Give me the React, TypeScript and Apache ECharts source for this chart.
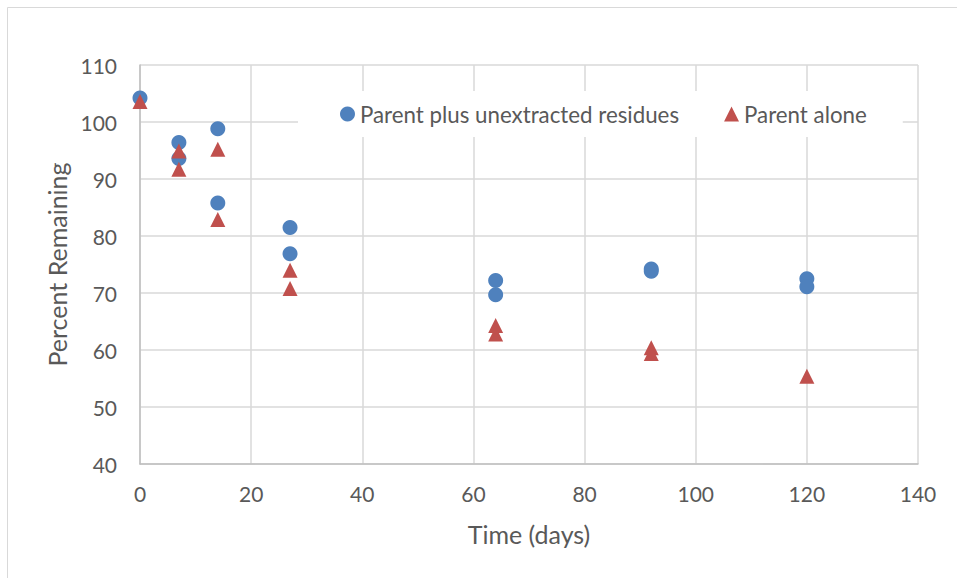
import React, { useEffect, useRef } from "react";
import * as echarts from "echarts";

const seriesNames = ["Parent plus unextracted residues", "Parent alone"];
const parentPlusResidues: [number, number][] = [
  [0, 104.2], [7, 96.4], [7, 93.6], [14, 98.8], [14, 85.8],
  [27, 81.5], [27, 76.9], [64, 72.2], [64, 69.7],
  [92, 74.2], [92, 73.8], [120, 72.5], [120, 71.1],
];
const parentAlone: [number, number][] = [
  [0, 103.6], [7, 94.9], [7, 91.7], [14, 95.2], [14, 82.9],
  [27, 74.0], [27, 70.8], [64, 64.3], [64, 62.8],
  [92, 60.4], [92, 59.4], [120, 55.4],
];
const xAxisName = "Time (days)";
const yAxisName = "Percent Remaining";

const FONT = "Lato, 'Noto Sans', sans-serif";
const TEXT = "#595959";

export default function App() {
  const ref = useRef<HTMLDivElement>(null);
  useEffect(() => {
    if (!ref.current) return;
    const chart = echarts.init(ref.current, undefined, { renderer: "svg" });
    chart.setOption({
      animation: false,
      backgroundColor: "#ffffff",
      textStyle: { fontFamily: FONT },
      graphic: [
        {
          type: "rect",
          shape: { x: 7.5, y: 7.5, width: 980, height: 600 },
          style: { fill: "none", stroke: "#d9d9d9", lineWidth: 1 },
          silent: true,
        },
      ],
      grid: { left: 140, right: 39, top: 65, bottom: 114 },
      legend: {
        left: 298,
        top: 91,
        padding: [12, 36, 12, 42],
        backgroundColor: "#ffffff",
        itemWidth: 15,
        itemHeight: 15,
        itemGap: 45,
        textStyle: { color: TEXT, fontSize: 22.3, fontFamily: FONT },
        data: seriesNames,
      },
      xAxis: {
        type: "value",
        min: 0,
        max: 140,
        interval: 20,
        name: xAxisName,
        nameLocation: "middle",
        nameGap: 57,
        nameTextStyle: { color: TEXT, fontSize: 25, fontFamily: FONT },
        axisLine: { show: true, lineStyle: { color: "#bfbfbf", width: 1.5 } },
        axisTick: { show: false },
        axisLabel: { color: TEXT, fontSize: 21, margin: 19, fontFamily: FONT },
        splitLine: { show: true, lineStyle: { color: "#d9d9d9", width: 1.5 } },
      },
      yAxis: {
        type: "value",
        min: 40,
        max: 110,
        interval: 10,
        name: yAxisName,
        nameLocation: "middle",
        nameGap: 68,
        nameTextStyle: { color: TEXT, fontSize: 25, fontFamily: FONT },
        axisLine: { show: true, lineStyle: { color: "#bfbfbf", width: 1.5 } },
        axisTick: { show: false },
        axisLabel: { color: TEXT, fontSize: 21, margin: 23, fontFamily: FONT },
        splitLine: { show: true, lineStyle: { color: "#d9d9d9", width: 1.5 } },
      },
      series: [
        {
          name: seriesNames[0],
          type: "scatter",
          symbol: "circle",
          symbolSize: 15,
          itemStyle: { color: "#4f81bd", opacity: 1 },
          data: parentPlusResidues,
        },
        {
          name: seriesNames[1],
          type: "scatter",
          symbol: "triangle",
          symbolSize: 15,
          itemStyle: { color: "#c0504d", opacity: 1 },
          data: parentAlone,
        },
      ],
    });
    return () => chart.dispose();
  }, []);
  return (
    <div
      ref={ref}
      style={{ position: "fixed", left: 0, top: 0, width: 957, height: 578 }}
    />
  );
}
